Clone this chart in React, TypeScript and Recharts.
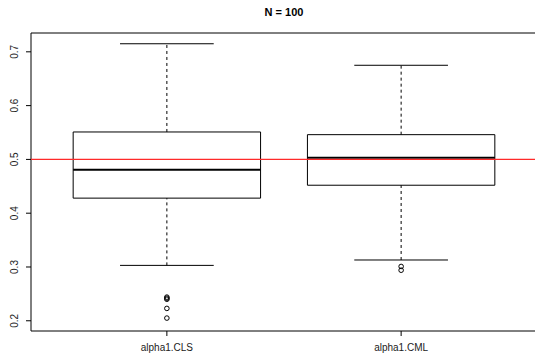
import {
  ComposedChart,
  ReferenceArea,
  ReferenceLine,
  Scatter,
  XAxis,
  YAxis,
} from "recharts";

const categories = ["alpha1.CLS", "alpha1.CML"];
const whiskerLow = [0.303, 0.313];
const q1 = [0.428, 0.452];
const median = [0.481, 0.503];
const q3 = [0.551, 0.546];
const whiskerHigh = [0.715, 0.675];
const outliersCLS = [0.244, 0.242, 0.24, 0.223, 0.205];
const outliersCML = [0.301, 0.294];
const yTicks = [0.2, 0.3, 0.4, 0.5, 0.6, 0.7];
const refValue = 0.5;
const title = "N = 100";

const X_DOMAIN: [number, number] = [0.42, 2.58];
const Y_DOMAIN: [number, number] = [0.181, 0.735];
const FONT = "'Liberation Sans', Arial, sans-serif";

const outlierData = [
  ...outliersCLS.map((y) => ({ x: 1, y })),
  ...outliersCML.map((y) => ({ x: 2, y })),
];

function YTick(props: any) {
  const { x, y, payload } = props;
  return (
    <text
      x={x}
      y={y}
      transform={`rotate(-90, ${x}, ${y})`}
      textAnchor="middle"
      fontSize={10}
      fontFamily={FONT}
      fill="#222"
    >
      {payload.value.toFixed(1)}
    </text>
  );
}

function Circle(props: any) {
  const { cx, cy } = props;
  return <circle cx={cx} cy={cy} r={2.3} fill="none" stroke="#000" strokeWidth={1} />;
}

export default function App() {
  return (
    <div
      style={{
        position: "absolute",
        left: 0,
        top: 0,
        width: 535,
        height: 360,
        overflow: "hidden",
        background: "#fff",
      }}
    >
      <div
        style={{
          position: "absolute",
          top: 7,
          left: 31,
          width: 506,
          textAlign: "center",
          fontFamily: FONT,
          fontWeight: "bold",
          fontSize: 11,
          lineHeight: "11px",
        }}
      >
        {title}
      </div>
      <ComposedChart
        width={540}
        height={360}
        margin={{ top: 33, right: 3, bottom: 0, left: 0 }}
      >
        <XAxis
          type="number"
          dataKey="x"
          domain={X_DOMAIN}
          ticks={[1, 2]}
          allowDataOverflow
          height={29}
          axisLine={false}
          tickLine={{ stroke: "#000" }}
          tickSize={5}
          tickMargin={8}
          tickFormatter={(v: number) => categories[v - 1]}
          tick={{ fontSize: 10, fontFamily: FONT, fill: "#222" }}
        />
        <YAxis
          type="number"
          dataKey="y"
          domain={Y_DOMAIN}
          ticks={yTicks}
          allowDataOverflow
          width={31}
          axisLine={false}
          tickLine={{ stroke: "#000" }}
          tickSize={5}
          tickMargin={8}
          tick={<YTick />}
        />
        <ReferenceArea
          x1={X_DOMAIN[0]}
          x2={X_DOMAIN[1]}
          y1={Y_DOMAIN[0]}
          y2={Y_DOMAIN[1]}
          fill="none"
          stroke="#000"
          strokeWidth={1}
          ifOverflow="visible"
        />
        {categories.map((c, i) => (
          <ReferenceArea
            key={`box-${c}`}
            x1={i + 1 - 0.4}
            x2={i + 1 + 0.4}
            y1={q1[i]}
            y2={q3[i]}
            fill="none"
            fillOpacity={0}
            stroke="#000"
            strokeWidth={1}
            strokeOpacity={1}
          />
        ))}
        {categories.map((c, i) => (
          <ReferenceLine
            key={`wu-${c}`}
            segment={[
              { x: i + 1, y: q3[i] },
              { x: i + 1, y: whiskerHigh[i] },
            ]}
            stroke="#000"
            strokeDasharray="3 3"
          />
        ))}
        {categories.map((c, i) => (
          <ReferenceLine
            key={`wl-${c}`}
            segment={[
              { x: i + 1, y: whiskerLow[i] },
              { x: i + 1, y: q1[i] },
            ]}
            stroke="#000"
            strokeDasharray="3 3"
          />
        ))}
        {categories.map((c, i) => (
          <ReferenceLine
            key={`cu-${c}`}
            segment={[
              { x: i + 1 - 0.2, y: whiskerHigh[i] },
              { x: i + 1 + 0.2, y: whiskerHigh[i] },
            ]}
            stroke="#000"
          />
        ))}
        {categories.map((c, i) => (
          <ReferenceLine
            key={`cl-${c}`}
            segment={[
              { x: i + 1 - 0.2, y: whiskerLow[i] },
              { x: i + 1 + 0.2, y: whiskerLow[i] },
            ]}
            stroke="#000"
          />
        ))}
        {categories.map((c, i) => (
          <ReferenceLine
            key={`med-${c}`}
            segment={[
              { x: i + 1 - 0.4, y: median[i] },
              { x: i + 1 + 0.4, y: median[i] },
            ]}
            stroke="#000"
            strokeWidth={2}
          />
        ))}
        <ReferenceLine
          key="ref-line"
          segment={[
            { x: X_DOMAIN[0], y: refValue },
            { x: X_DOMAIN[1], y: refValue },
          ]}
          stroke="#ff2a2a"
          strokeWidth={1.4}
        />
        <Scatter
          data={outlierData}
          dataKey="y"
          shape={<Circle />}
          isAnimationActive={false}
        />
      </ComposedChart>
    </div>
  );
}
